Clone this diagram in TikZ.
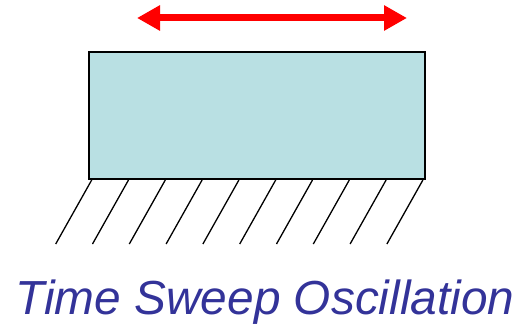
\documentclass[tikz,border=0pt]{standalone}
\usepackage{fontspec}
\setmainfont{Liberation Sans}
\usetikzlibrary{arrows.meta,calc}
\definecolor{boxfill}{RGB}{185,224,227}
\definecolor{titleblue}{RGB}{51,51,153}
\definecolor{arrowred}{RGB}{255,0,0}
\begin{document}
\begin{tikzpicture}[x=1pt,y=-1pt,
  blockbox/.style={draw=black,line width=2pt,fill=boxfill,minimum width=336pt,minimum height=127pt,inner sep=0pt,anchor=north west},
  hatchline/.style={draw=black,line width=1.3pt},
  motion/.style={draw=arrowred,line width=7pt,{Triangle[length=23pt,width=24pt]}-{Triangle[length=23pt,width=24pt]}},
  titletext/.style={text=titleblue,font=\fontsize{47.8}{54}\selectfont\itshape,inner sep=0pt,anchor=base}]
\useasboundingbox (0,0) rectangle (518,326);
\node[blockbox] (block) at (88,51) {};
\coordinate (al) at (137,18);
\coordinate (ar) at (407,18);
\draw[motion] (al) -- (ar);
\foreach \i in {0,...,9}{
  \coordinate (h\i) at ($(block.south west)+(3.7+36.8*\i,0)$);
  \draw[hatchline] (h\i) -- ++(-36,64);
}
\node[titletext] (title) at (265,314) {Time Sweep Oscillation};
\end{tikzpicture}
\end{document}
